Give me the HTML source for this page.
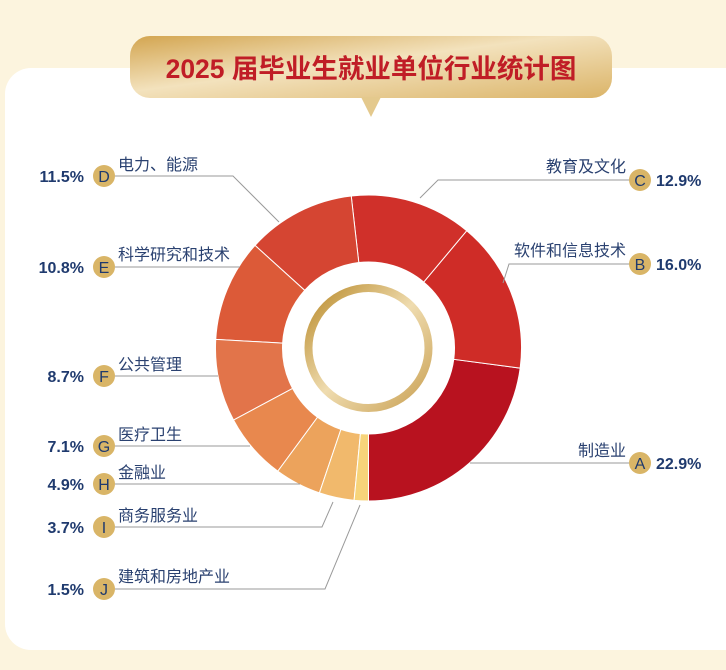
<!DOCTYPE html>
<html><head><meta charset="utf-8"><style>
html,body{margin:0;padding:0}
body{width:726px;height:670px;background:#fcf4de;position:relative;overflow:hidden;font-family:"Liberation Sans","Noto Sans CJK SC",sans-serif}
</style></head><body>
<svg width="726" height="670" viewBox="0 0 726 670" xmlns="http://www.w3.org/2000/svg" style="position:absolute;left:0;top:0">
<defs>
<linearGradient id="tg" x1="0" y1="0" x2="1" y2="1">
<stop offset="0" stop-color="#d3a550"/><stop offset="0.45" stop-color="#f3e2bd"/><stop offset="1" stop-color="#dbb468"/>
</linearGradient>
<linearGradient id="rg" x1="0" y1="0" x2="1" y2="1">
<stop offset="0" stop-color="#b98a2a"/><stop offset="0.5" stop-color="#efdcb0"/><stop offset="1" stop-color="#c9a052"/>
</linearGradient>
</defs>
<rect x="5" y="68" width="760" height="582" rx="26" fill="#ffffff"/>
<rect x="130" y="36" width="482" height="62" rx="20" fill="url(#tg)"/>
<polygon points="361,97 381,97 371,117" fill="#e4c98d"/>
<text x="371" y="78" text-anchor="middle" font-size="26.5" font-weight="bold" fill="#c01d26" font-family="'Liberation Sans','Noto Sans CJK SC',sans-serif">2025 届毕业生就业单位行业统计图</text>
<g id="pie"></g>
<circle cx="368.5" cy="348" r="60" fill="none" stroke="url(#rg)" stroke-width="8"/>
<g stroke="#9a9a9a" stroke-width="1" fill="none">
<polyline points="115,176 233,176 279,222"/>
<polyline points="115,267 240,267"/>
<polyline points="115,376 218,376"/>
<polyline points="115,446 250,446"/>
<polyline points="115,484 300,484"/>
<polyline points="115,527 322,527 333,502"/>
<polyline points="115,589 325,589 360,505"/>
<polyline points="633,180 438,180 420,198"/>
<polyline points="633,264 509,264 503,283"/>
<polyline points="633,463 470,463"/>
</g>
<g font-family="'Liberation Sans','Noto Sans CJK SC',sans-serif">
<g fill="#d9b567">
<circle cx="104" cy="176" r="11"/><circle cx="104" cy="267" r="11"/><circle cx="104" cy="376" r="11"/>
<circle cx="104" cy="446" r="11"/><circle cx="104" cy="484" r="11"/><circle cx="104" cy="527" r="11"/>
<circle cx="104" cy="589" r="11"/><circle cx="640" cy="180" r="11"/><circle cx="640" cy="264" r="11"/>
<circle cx="640" cy="463" r="11"/>
</g>
<g fill="#1f3a6e" font-size="16" text-anchor="middle">
<text x="104" y="182">D</text><text x="104" y="273">E</text><text x="104" y="382">F</text>
<text x="104" y="452">G</text><text x="104" y="490">H</text><text x="104" y="533">I</text>
<text x="104" y="595">J</text><text x="640" y="186">C</text><text x="640" y="270">B</text>
<text x="640" y="469">A</text>
</g>
<g fill="#1f3a6e" font-size="16" font-weight="bold" text-anchor="end">
<text x="84" y="182">11.5%</text><text x="84" y="273">10.8%</text><text x="84" y="382">8.7%</text>
<text x="84" y="452">7.1%</text><text x="84" y="490">4.9%</text><text x="84" y="533">3.7%</text>
<text x="84" y="595">1.5%</text>
</g>
<g fill="#1f3a6e" font-size="16" font-weight="bold">
<text x="656" y="186">12.9%</text><text x="656" y="270">16.0%</text><text x="656" y="469">22.9%</text>
</g>
<g fill="#2a4170" font-size="16">
<text x="118" y="170">电力、能源</text>
<text x="118" y="260">科学研究和技术</text>
<text x="118" y="370">公共管理</text>
<text x="118" y="440">医疗卫生</text>
<text x="118" y="478">金融业</text>
<text x="118" y="521">商务服务业</text>
<text x="118" y="582">建筑和房地产业</text>
</g>
<g fill="#2a4170" font-size="16" text-anchor="end">
<text x="626" y="172">教育及文化</text>
<text x="626" y="256">软件和信息技术</text>
<text x="626" y="456">制造业</text>
</g>
</g>
</svg>
<script>
(function(){
var cx=368.5,cy=348,R=153,r=86;
var d=[[22.9,"#b8121f"],[16.0,"#cf2c27"],[12.9,"#d0302a"],[11.5,"#d54532"],[10.8,"#dc5a38"],[8.7,"#e2744a"],[7.1,"#e8884e"],[4.9,"#eca35c"],[3.7,"#f1b96c"],[1.5,"#f7d47a"]];
var tot=0;d.forEach(function(v){tot+=v[0]});
var a=Math.PI,g=document.getElementById("pie"),s="";
function p(rad,t){return (cx+rad*Math.sin(t)).toFixed(2)+","+(cy-rad*Math.cos(t)).toFixed(2)}
d.forEach(function(v){
var b=a-v[0]/tot*2*Math.PI;var lg=(a-b)>Math.PI?1:0;
s+='<path d="M'+p(R,a)+' A'+R+','+R+' 0 '+lg+' 0 '+p(R,b)+' L'+p(r,b)+' A'+r+','+r+' 0 '+lg+' 1 '+p(r,a)+' Z" fill="'+v[1]+'" stroke="#fff" stroke-width="1"/>';
a=b;});
g.innerHTML=s;
})();
</script>
</body></html>
